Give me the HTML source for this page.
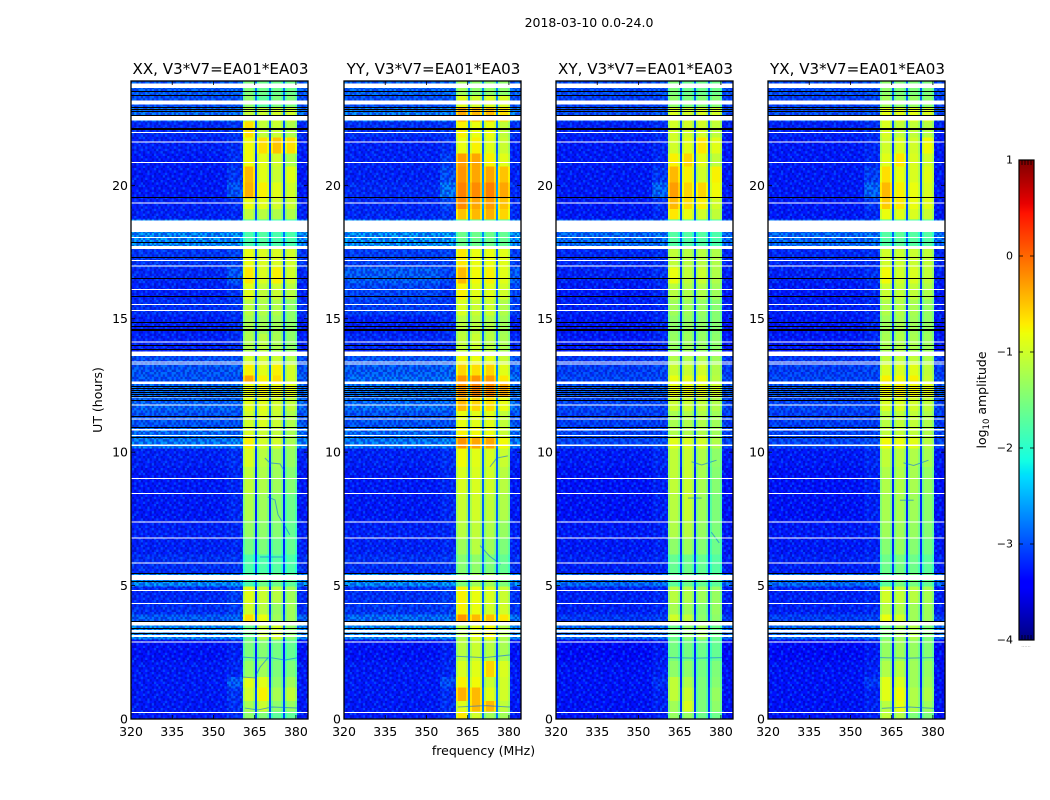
<!DOCTYPE html>
<html lang="en">
<head>
<meta charset="utf-8">
<title>2018-03-10 0.0-24.0</title>
<style>
html,body{margin:0;padding:0;background:#fff;}
svg{display:block;}
text{font-family:"DejaVu Sans","Liberation Sans",sans-serif;fill:#000;}
</style>
</head>
<body>
<svg id="figure" xmlns="http://www.w3.org/2000/svg" width="1050" height="800" viewBox="0 0 1050 800">
  <defs id="defs"></defs>
  <text x="589" y="27" text-anchor="middle" font-size="12.5">2018-03-10 0.0-24.0</text>
  <text x="483.5" y="755" text-anchor="middle" font-size="12.5">frequency (MHz)</text>
  <text transform="translate(102,400) rotate(-90)" text-anchor="middle" font-size="12.5">UT (hours)</text>
  <text transform="translate(986,400) rotate(-90)" text-anchor="middle" font-size="12.5">log<tspan font-size="8.5" dy="3">10</tspan><tspan dy="-3"> amplitude</tspan></text>
  <text x="1026" y="647" text-anchor="middle" font-size="5" fill="#888" style="fill:#888">......</text>
  <g id="panels"></g>
  <g id="colorbar"></g>
</svg>
<script>
// ---- chart data (hours, MHz, log10 amplitude) ----
const panelTitles = ['XX, V3*V7=EA01*EA03','YY, V3*V7=EA01*EA03','XY, V3*V7=EA01*EA03','YX, V3*V7=EA01*EA03'];
const xTicks = [320,335,350,365,380];
const yTicks = [0,5,10,15,20];
const cbarTicks = [1,0,-1,-2,-3,-4];
const freqEdges = [320,355,360.7,361.5,364.3,365.1,365.8,366.6,369.4,370.2,370.9,371.7,374.5,375.3,376,376.8,379.6,380.4,384.4];
// Which level of a row applies to each frequency column: 0 background, 1 near-band, 2-5 spw1-spw4, 6 stripe
const freqColumnLevel = [0,1,2,2,2,6,3,3,3,6,4,4,4,6,5,5,5,0];
// Bandpass shape per frequency column, added to the row level
const bandpassDelta = [-.1,-.05,-.12,.12,-.12,-.5,-.12,.12,-.12,-.5,-.12,.12,-.12,-.5,-.12,.12,-.12,-.1];
const timeEdges = [0,.3,.7,1.2,1.6,2.2,2.99,3.54,3.94,4.38,4.98,5.48,6.18,6.78,7.47,8.47,9.47,10.16,10.56,10.96,11.56,12.11,12.6,12.9,13.3,13.75,14.45,15.14,15.74,16.34,16.94,17.64,18.28,18.73,19.13,19.53,20.13,20.72,21.22,21.82,22.42,22.92,23.41,23.91];
const levelsXX = [
[-3.15,-3.05,-1.5,-1.6,-1.8,-1.8,-2.5],[-3.15,-3.05,-1.35,-1.15,-1.5,-1.45,-2.5],[-3.15,-3,-1.1,-.85,-1.35,-1.2,-2.5],[-3.15,-2.75,-1,-1,-1.5,-1.4,-2.6],[-3.15,-3.1,-1.45,-1.4,-1.6,-1.6,-2.7],[-3.2,-3.15,-1.6,-1.55,-1.65,-1.75,-2.7],[-2.4,-2.4,-1.7,-1.2,-1.1,-1.5,-2.4],[-2.7,-2.7,-.75,-.95,-1.4,-1.4,-2.5],[-3,-2.95,-1.1,-1.25,-1.45,-1.4,-2.6],[-3.05,-2.95,-1,-1.15,-1.25,-1.4,-2.7],[-2.4,-2.4,-1.9,-1.7,-1.7,-1.8,-2.4],[-3,-3,-1.9,-1.9,-1.85,-1.9,-2.6],[-3.1,-3.1,-1.65,-1.6,-1.7,-1.75,-2.7],[-3.1,-3.1,-1.45,-1.5,-1.55,-1.75,-2.7],[-3.15,-3.1,-1.3,-1.4,-1.5,-1.7,-2.7],[-3.15,-3.1,-1.2,-1.3,-1.4,-1.55,-2.7],[-3.1,-3.05,-1.05,-1.25,-1.35,-1.45,-2.6],[-2.5,-2.5,-.85,-1.1,-1.1,-1.35,-2.4],[-2.6,-2.7,-1.05,-1.15,-1.2,-1.35,-2.4],[-2.75,-2.8,-1.1,-1.05,-1.15,-1.3,-2.4],[-2.65,-2.7,-1,-1,-1.1,-1.2,-2.3],[-2.6,-2.6,-.95,-.9,-.95,-1,-2.2],[-2.75,-2.85,-.45,-.85,-.75,-1.1,-2.3],[-2.75,-2.75,-.85,-1,-.85,-1.1,-2.3],[-2.8,-2.8,-1.1,-1.1,-1.15,-1.3,-2.4],[-3.1,-3.05,-1.3,-1.25,-1.35,-1.5,-2.5],[-3.1,-3.05,-1.35,-1.4,-1.4,-1.5,-2.5],[-3,-3,-1.25,-1.3,-1.3,-1.5,-2.5],[-3.1,-3,-1,-1.2,-1.15,-1.25,-2.5],[-3.05,-2.8,-.8,-1.05,-.85,-1.1,-2.5],[-2.95,-2.9,-.95,-1.05,-1.05,-1.1,-2.5],[-2.4,-2.4,-1.9,-1.85,-1.9,-1.9,-2.3],[-2.4,-2.5,-1.9,-1.9,-2,-2,-2.3],[-3.1,-3.1,-1.2,-1.25,-1.3,-1.3,-2.5],[-3.1,-3.05,-.95,-1,-1.1,-1.15,-2.5],[-3.15,-2.8,-.5,-.85,-1,-1.1,-2.6],[-3.15,-3,-.55,-1,-1.15,-1,-2.6],[-3.15,-3.05,-.9,-1,-1.1,-1.3,-2.6],[-3.1,-3.05,-.9,-.75,-.6,-.75,-2.5],[-3.05,-3,-.75,-1.2,-1.15,-1.3,-2.5],[-2.6,-2.6,-1.2,-1.15,-1.1,-1.1,-2.3],[-2.8,-2.8,-1.5,-1.8,-1.6,-1.6,-2.3],[-2.7,-2.7,-1.6,-1.7,-1.7,-1.7,-2.3]];
const levelsYY = [
[-3.15,-3.05,-.8,-1.1,-1.4,-1.4,-2.3],[-3.15,-3.05,-1,-.55,-.55,-1.2,-2.3],[-3.15,-3.05,-.5,-.55,-1,-1.1,-2.3],[-3.15,-2.85,-.85,-.9,-1.15,-1.1,-2.4],[-3.15,-3.1,-1.05,-1,-.7,-1.05,-2.4],[-3.2,-3.15,-1.25,-1.15,-1.25,-1.35,-2.5],[-2.4,-2.4,-1.3,-1,-.9,-1.3,-2.3],[-2.6,-2.65,-.35,-.55,-.6,-.8,-2.3],[-2.95,-2.95,-.85,-.95,-1.1,-1.1,-2.4],[-3,-2.95,-.85,-.95,-1.05,-1.15,-2.4],[-2.4,-2.4,-1.6,-1.4,-1.4,-1.6,-2.3],[-3,-3,-1.55,-1.5,-1.6,-1.75,-2.4],[-3.1,-3.1,-1.4,-1.25,-1.4,-1.6,-2.4],[-3.1,-3.1,-1.25,-1.2,-1.3,-1.45,-2.4],[-3.15,-3.1,-1.15,-1.1,-1.2,-1.3,-2.4],[-3.15,-3.1,-1.05,-1.05,-1.1,-1.25,-2.4],[-3.1,-3.05,-.9,-1,-1.05,-1.15,-2.4],[-2.5,-2.5,-.35,-.45,-.45,-.9,-2.2],[-2.6,-2.7,-.85,-.9,-.95,-1.15,-2.2],[-2.75,-2.8,-.95,-1,-1,-1.2,-2.3],[-2.6,-2.65,-.55,-.7,-.75,-.95,-2.2],[-2.55,-2.55,-.35,-.25,-.3,-.45,-2],[-2.6,-2.65,-.35,-.35,-.4,-.8,-2.1],[-2.7,-2.7,-.7,-.75,-.7,-1,-2.2],[-2.75,-2.75,-.9,-.95,-1,-1.15,-2.3],[-3.05,-3.05,-1.2,-1.15,-1.25,-1.35,-2.4],[-3.1,-3.05,-1.25,-1.25,-1.3,-1.4,-2.4],[-2.9,-3,-1.05,-1.15,-1.15,-1.3,-2.4],[-2.85,-3,-.85,-1,-1,-1.1,-2.4],[-2.7,-2.9,-.55,-.9,-.85,-1,-2.4],[-2.9,-2.9,-.8,-.95,-.95,-1,-2.4],[-2.35,-2.35,-1.7,-1.7,-1.7,-1.75,-2.2],[-2.35,-2.4,-1.8,-1.8,-1.8,-1.85,-2.2],[-3.05,-3,-.6,-.55,-.5,-.7,-2.2],[-3.05,-2.9,-.3,-.45,-.4,-.6,-2.1],[-3.05,-2.6,-.25,-.3,-.25,-.45,-2.1],[-3.1,-2.85,-.35,-.45,-.45,-.6,-2.2],[-3.1,-2.95,-.4,-.45,-.85,-1,-2.3],[-3.1,-3.05,-.95,-.85,-1,-1.15,-2.4],[-3,-3,-.85,-.95,-.95,-1.2,-2.3],[-2.5,-2.5,-.45,-.55,-.55,-.75,-2.2],[-2.8,-2.8,-1,-1.1,-1.05,-1.05,-2.2],[-2.65,-2.65,-1.4,-1.5,-1.5,-1.5,-2.2]];
const levelsXY = [
[-3.2,-3.15,-1.45,-1.45,-1.7,-1.7,-2.6],[-3.2,-3.15,-1.4,-1.05,-1.6,-1.5,-2.6],[-3.2,-3.15,-1.2,-1.15,-1.6,-1.45,-2.6],[-3.2,-3.05,-1.2,-1.3,-1.6,-1.55,-2.7],[-3.2,-3.15,-1.5,-1.5,-1.65,-1.6,-2.7],[-3.25,-3.2,-1.65,-1.65,-1.7,-1.75,-2.7],[-2.6,-2.6,-1.7,-1.5,-1.4,-1.7,-2.5],[-2.95,-2.95,-1.1,-1.2,-1.5,-1.5,-2.6],[-3.1,-3.1,-1.35,-1.4,-1.55,-1.45,-2.7],[-3.1,-3.1,-1.25,-1.3,-1.4,-1.45,-2.7],[-2.6,-2.6,-1.8,-1.7,-1.75,-1.8,-2.5],[-3.1,-3.1,-1.75,-1.7,-1.75,-1.85,-2.6],[-3.15,-3.15,-1.5,-1.4,-1.55,-1.7,-2.7],[-3.15,-3.15,-1.3,-1.25,-1.45,-1.6,-2.7],[-3.2,-3.15,-1.25,-1.15,-1.4,-1.6,-2.7],[-3.2,-3.15,-1.2,-1.15,-1.35,-1.55,-2.7],[-3.15,-3.1,-1.2,-1.15,-1.3,-1.5,-2.6],[-2.85,-2.85,-1,-1.05,-1.1,-1.3,-2.5],[-2.85,-2.9,-1.3,-1.3,-1.3,-1.4,-2.5],[-2.9,-2.95,-1.35,-1.3,-1.3,-1.4,-2.5],[-2.85,-2.9,-1.15,-1.15,-1.2,-1.3,-2.5],[-2.75,-2.75,-.95,-.95,-1,-1.1,-2.3],[-2.85,-2.9,-.95,-1,-.95,-1.25,-2.4],[-2.9,-2.9,-1.15,-1.15,-1.1,-1.3,-2.4],[-2.95,-2.95,-1.3,-1.3,-1.3,-1.4,-2.5],[-3.15,-3.1,-1.45,-1.4,-1.45,-1.5,-2.6],[-3.15,-3.1,-1.5,-1.45,-1.5,-1.55,-2.6],[-3.1,-3.1,-1.4,-1.4,-1.45,-1.55,-2.6],[-3.15,-3.1,-1.25,-1.3,-1.3,-1.4,-2.6],[-3.1,-3.05,-.95,-1.2,-1.15,-1.3,-2.6],[-3.05,-3.05,-1.2,-1.25,-1.25,-1.3,-2.6],[-2.6,-2.6,-1.85,-1.85,-1.85,-1.9,-2.4],[-2.6,-2.6,-1.9,-1.9,-1.9,-1.95,-2.4],[-3.15,-3.1,-.8,-.95,-1.1,-1.2,-2.5],[-3.15,-3.05,-.55,-.75,-.85,-1.1,-2.5],[-3.15,-2.7,-.4,-.7,-.7,-.9,-2.5],[-3.15,-3,-.55,-.85,-1.1,-.85,-2.5],[-3.15,-3.1,-.85,-.7,-1,-1.2,-2.5],[-3.15,-3.1,-1.1,-1,-.8,-1,-2.6],[-3.1,-3.05,-1.1,-1.1,-1.1,-1.2,-2.5],[-2.8,-2.8,-1.05,-1.1,-1.05,-1.1,-2.4],[-2.9,-2.9,-1.5,-1.6,-1.55,-1.55,-2.4],[-2.8,-2.8,-1.6,-1.7,-1.7,-1.7,-2.4]];
const levelsYX = [
[-3.2,-3.15,-1.2,-1.3,-1.6,-1.6,-2.6],[-3.2,-3.15,-1.25,-.95,-1.3,-1.4,-2.6],[-3.2,-3.15,-1,-.9,-1.3,-1.3,-2.6],[-3.2,-3,-1,-1.05,-1.4,-1.4,-2.7],[-3.2,-3.15,-1.3,-1.25,-1.4,-1.45,-2.7],[-3.25,-3.2,-1.45,-1.4,-1.45,-1.55,-2.7],[-2.6,-2.6,-1.6,-1.4,-1.3,-1.6,-2.5],[-2.9,-2.9,-.95,-1.1,-1.4,-1.4,-2.6],[-3.1,-3.1,-1.25,-1.3,-1.4,-1.4,-2.7],[-3.1,-3.1,-1.1,-1.2,-1.25,-1.35,-2.7],[-2.6,-2.6,-1.8,-1.65,-1.65,-1.75,-2.5],[-3.1,-3.1,-1.7,-1.65,-1.7,-1.8,-2.6],[-3.15,-3.15,-1.55,-1.45,-1.55,-1.65,-2.7],[-3.15,-3.15,-1.4,-1.4,-1.45,-1.55,-2.7],[-3.2,-3.15,-1.35,-1.35,-1.4,-1.5,-2.7],[-3.2,-3.15,-1.3,-1.3,-1.35,-1.45,-2.7],[-3.15,-3.1,-1.2,-1.25,-1.3,-1.35,-2.6],[-2.85,-2.85,-.9,-.95,-1,-1.25,-2.5],[-2.85,-2.9,-1.2,-1.2,-1.2,-1.3,-2.5],[-2.9,-2.95,-1.25,-1.2,-1.2,-1.3,-2.5],[-2.85,-2.9,-1.05,-1.05,-1.1,-1.2,-2.5],[-2.75,-2.75,-.9,-.85,-.9,-1,-2.3],[-2.85,-2.9,-.85,-.9,-.85,-1.15,-2.4],[-2.9,-2.9,-1.05,-1.05,-1,-1.2,-2.4],[-2.95,-2.95,-1.2,-1.2,-1.2,-1.3,-2.5],[-3.15,-3.1,-1.35,-1.3,-1.35,-1.4,-2.6],[-3.15,-3.1,-1.4,-1.35,-1.4,-1.45,-2.6],[-3.1,-3.1,-1.3,-1.3,-1.35,-1.45,-2.6],[-3.15,-3.1,-1.15,-1.2,-1.2,-1.3,-2.6],[-3.1,-3.05,-.9,-1.1,-1.05,-1.2,-2.6],[-3.05,-3.05,-1.1,-1.15,-1.15,-1.2,-2.6],[-2.6,-2.6,-1.85,-1.8,-1.85,-1.85,-2.4],[-2.6,-2.6,-1.9,-1.85,-1.9,-1.9,-2.4],[-3.15,-3.1,-.95,-1,-1.05,-1.15,-2.5],[-3.15,-3,-.65,-.8,-.95,-1,-2.5],[-3.15,-2.7,-.55,-.85,-.95,-1.05,-2.5],[-3.15,-2.95,-.75,-.95,-1.05,-1,-2.5],[-3.15,-3.1,-1,-.8,-1.05,-1.1,-2.5],[-3.15,-3.1,-1.1,-1.05,-1.1,-.9,-2.6],[-3.1,-3.05,-1.05,-1.2,-1.2,-1.25,-2.5],[-2.8,-2.8,-1,-1,-1,-1.05,-2.4],[-2.9,-2.9,-1.4,-1.5,-1.45,-1.5,-2.4],[-2.8,-2.8,-1.5,-1.6,-1.6,-1.6,-2.4]];
const panelLevels = [levelsXX,levelsYY,levelsXY,levelsYX];
// Faint RFI tracks visible in the bands, as [MHz, hour] points
const tracksXX = [
[[368.7,9.78],[370.5,9.6],[374.2,9.56],[376,9.26]],
[[369.8,8.32],[372.4,8.21],[373.5,7.65],[375.3,7.35],[377.8,6.9]],
[[366.9,6.07],[376,6.07]],
[[360.7,2.32],[365,2.29],[371.3,2.29],[376,2.21],[380.4,2.29]],
[[360.7,1.57],[365,1.54],[367,1.95],[369.8,2.29]],
[[361.4,.41],[366.2,.34],[371.3,.45],[380.4,.41]]];
const tracksYY = [
[[373.1,9.45],[375.6,9.78],[379.6,9.86]],
[[369.5,6.5],[373,6.1],[377,5.8]],
[[360.7,2.35],[371,2.3],[380.4,2.4]],
[[361.4,.45],[371.3,.5],[380.4,.45]]];
const tracksXY = [
[[369.3,9.64],[373,9.52],[378.4,9.7]],
[[368,8.28],[373,8.28]],
[[376.5,7],[379.4,6.6]],
[[360.7,2.3],[371,2.28],[380.4,2.3]]];
const tracksYX = [
[[369.3,9.6],[373,9.5],[378.4,9.7]],
[[368,8.2],[373,8.2]],
[[360.7,2.3],[371,2.28],[380.4,2.3]],
[[361.4,.4],[371.3,.45],[380.4,.4]]];
const panelTracks = [tracksXX,tracksYY,tracksXY,tracksYX];
// Flagged intervals that show as white rows: [from hour, to hour]
const whiteGaps = [[.23,.27],[2.87,2.91],[3.08,3.15],[3.25,3.33],[3.51,3.64],[4.31,4.35],[4.8,4.84],[5.21,5.39],[5.82,5.86],[6.77,6.81],[7.36,7.4],[8.43,8.47],[9,9.04],[10.24,10.28],[10.61,10.65],[10.82,10.86],[11.23,11.27],[11.74,11.78],[12.05,12.09],[12.56,12.64],[13.28,13.32],[13.36,13.4],[13.61,13.77],[14.11,14.15],[15.29,15.33],[15.52,15.56],[16.08,16.12],[16.96,17],[17.16,17.2],[17.62,17.73],[18.03,18.07],[18.26,18.68],[19.32,19.36],[20.84,20.88],[21.61,21.65],[21.96,22],[22.43,22.62],[23.02,23.18],[23.64,23.82]];
// Hours of single-sample black (below range) rows
const blackRows = [3.24,3.4,3.68,5.18,5.46,10.56,10.93,11.37,11.96,12.11,12.19,12.26,12.33,12.4,12.48,13.87,14.02,14.56,14.61,14.71,14.86,15.85,16.52,17.31,17.89,19.57,22.12,22.16,22.64,22.77,22.87,22.93,23.38,23.55];
// Receiver-noise texture tile for the band-free channels: 0 dark, 1 none, 2 medium, 3 light
const speckleTile = [
'102130120321012301201320','310201231002130210321012','021310102312010132102103','130021320101231020130210',
'213102013210102310211032','012031201023120132010213','301210320130210101321020','120302101213012031020132',
'031021230102103210130201','210130102321001213201013','102213010130232010102130','320101231002101321030120',
'011320102131201002132101','203010321012013210120302','120231001320130102310210','031102130210302101021301',
'210320101032101230102013','102013212101020313012120','301201030213121002101302','013120320100213012310201'];

// ---- axes geometry and scales ----
const panelLeft = [131,344,556,768];
const panelWidth = 177, plotTop = 81, plotBottom = 719;
const cbarLeft = 1019, cbarWidth = 15, cbarTop = 160, cbarBottom = 640;
const xMin = freqEdges[0], xMax = freqEdges[freqEdges.length-1];
const yMax = timeEdges[timeEdges.length-1], vMin = -4, vMax = 1;
function xScale(f, left){ return left + (f - xMin) / (xMax - xMin) * panelWidth; }
function yScale(h){ return plotBottom - h / yMax * (plotBottom - plotTop); }
function vScale(v){ return cbarBottom - (v - vMin) / (vMax - vMin) * (cbarBottom - cbarTop); }
function interp(t, pts){
  for(let i=1;i<pts.length;i++){
    if(t<=pts[i][0]) return pts[i-1][1]+(pts[i][1]-pts[i-1][1])*(t-pts[i-1][0])/(pts[i][0]-pts[i-1][0]);
  }
  return pts[pts.length-1][1];
}
const jetR=[[0,0],[.35,0],[.66,1],[.89,1],[1,.5]];
const jetG=[[0,0],[.125,0],[.375,1],[.64,1],[.91,0],[1,0]];
const jetB=[[0,.5],[.11,1],[.34,1],[.65,0],[1,0]];
function jet(v){
  const t=Math.max(0,Math.min(1,(v-vMin)/(vMax-vMin)));
  return 'rgb('+Math.round(255*interp(t,jetR))+','+Math.round(255*interp(t,jetG))+','+Math.round(255*interp(t,jetB))+')';
}
const NS='http://www.w3.org/2000/svg';
function mk(tag,parent,attrs){
  const el=document.createElementNS(NS,tag);
  for(const k in attrs) el.setAttribute(k,attrs[k]);
  parent.appendChild(el);
  return el;
}

// speckle pattern
const defs=document.getElementById('defs');
const cellW=2.2,cellH=2.4;
const speckle=mk('pattern',defs,{id:'speckle',patternUnits:'userSpaceOnUse',width:cellW*speckleTile[0].length,height:cellH*speckleTile.length});
const speckleFill=[['#0000a8',.5],null,['#0010ff',.6],['#0070ff',.5]];
speckleTile.forEach(function(row,r){
  for(let c=0;c<row.length;c++){
    const s=speckleFill[+row[c]];
    if(s) mk('rect',speckle,{x:c*cellW,y:r*cellH,width:cellW,height:cellH,fill:s[0],'fill-opacity':s[1]});
  }
});

const panelsG=document.getElementById('panels');
panelTitles.forEach(function(title,p){
  const left=panelLeft[p], levels=panelLevels[p];
  const g=mk('g',panelsG,{});
  
  
  const cells=mk('g',g,{'shape-rendering':'crispEdges'});
  
  
  levels.forEach(function(row,r){
    const y0=yScale(timeEdges[r+1]), y1=yScale(timeEdges[r]);
    freqColumnLevel.forEach(function(src,c){
      const x0=xScale(freqEdges[c],left), x1=xScale(freqEdges[c+1],left);
      const cell=mk('rect',cells,{x:x0,y:y0,width:x1-x0+.5,height:y1-y0+.5,fill:jet(row[src]+bandpassDelta[c])});
      
      
    });
  });
  // noise texture on band-free channels
  [[freqEdges[0],freqEdges[2]],[freqEdges[17],freqEdges[18]]].forEach(function(span){
    const noise=mk('rect',g,{x:xScale(span[0],left),y:plotTop,width:xScale(span[1],left)-xScale(span[0],left),height:plotBottom-plotTop,fill:'url(#speckle)'});
    
    
  });
  // RFI tracks
  panelTracks[p].forEach(function(track){
    const pts=track.map(function(q){return xScale(q[0],left)+','+yScale(q[1]);}).join(' ');
    const tr=mk('polyline',g,{points:pts,fill:'none',stroke:'#0060ff','stroke-width':1,'stroke-opacity':.55});
    
    
  });
  // flagged rows
  whiteGaps.forEach(function(gap){
    const yA=yScale(gap[1]), yB=yScale(gap[0]);
    const w=mk('rect',g,{x:left,y:yA,width:panelWidth,height:yB-yA,fill:'#fff','shape-rendering':'crispEdges'});
    
    
  });
  blackRows.forEach(function(h){
    const b=mk('rect',g,{x:left,y:Math.round(yScale(h)),width:panelWidth,height:1,fill:'#000','shape-rendering':'crispEdges'});
    
    
  });
  // frame
  const frame=mk('rect',g,{x:left,y:plotTop,width:panelWidth,height:plotBottom-plotTop,fill:'none',stroke:'#000','stroke-width':1.3});
  
  
  // ticks
  xTicks.forEach(function(t){
    const x=xScale(t,left);
    [[plotBottom,plotBottom-4],[plotTop,plotTop+4]].forEach(function(e){
      const tk=mk('line',g,{x1:x,x2:x,y1:e[0],y2:e[1],stroke:'#000','stroke-width':.8});
      
      
    });
    const lb=mk('text',g,{x:x,y:736,'text-anchor':'middle','font-size':12.5});
    lb.textContent=t;
    
    
  });
  yTicks.forEach(function(t){
    const y=yScale(t);
    [[left,left+4],[left+panelWidth,left+panelWidth-4]].forEach(function(e){
      const tk=mk('line',g,{x1:e[0],x2:e[1],y1:y,y2:y,stroke:'#000','stroke-width':.8});
      
      
    });
    const lb=mk('text',g,{x:left-3,y:y+4.5,'text-anchor':'end','font-size':12.5});
    lb.textContent=t;
    
    
  });
  const tt=mk('text',g,{x:left+panelWidth/2+1,y:74,'text-anchor':'middle','font-size':15.1});
  tt.textContent=title;
  
  
});

// colorbar
const cb=document.getElementById('colorbar');
const cbRamp=mk('g',cb,{'shape-rendering':'crispEdges'});


const rampSteps=240;
for(let i=0;i<rampSteps;i++){
  const v0=vMin+(vMax-vMin)*i/rampSteps, v1=vMin+(vMax-vMin)*(i+1)/rampSteps;
  const s=mk('rect',cbRamp,{x:cbarLeft,y:vScale(v1),width:cbarWidth,height:vScale(v0)-vScale(v1)+.5,fill:jet((v0+v1)/2)});
  
  
}
const cbFrame=mk('rect',cb,{x:cbarLeft,y:cbarTop,width:cbarWidth,height:cbarBottom-cbarTop,fill:'none',stroke:'#000','stroke-width':1.2});


cbarTicks.forEach(function(t){
  const y=vScale(t);
  [[cbarLeft,cbarLeft+4],[cbarLeft+cbarWidth,cbarLeft+cbarWidth-4]].forEach(function(e){
    const tk=mk('line',cb,{x1:e[0],x2:e[1],y1:y,y2:y,stroke:'#000','stroke-width':.8});
    
    
  });
  const lb=mk('text',cb,{x:cbarLeft-6,y:y+3.5,'text-anchor':'end','font-size':11});
  lb.textContent=(t<0?'\u2212':'')+Math.abs(t);
  
  
});
for(let k=1;k<5;k++){
  [[cbarTop,cbarTop+5],[cbarBottom,cbarBottom-5]].forEach(function(e){
    const x=cbarLeft+k*cbarWidth/5;
    const tk=mk('line',cb,{x1:x,x2:x,y1:e[0],y2:e[1],stroke:'#000','stroke-width':.8});
    
    
  });
}
</script>
</body>
</html>
